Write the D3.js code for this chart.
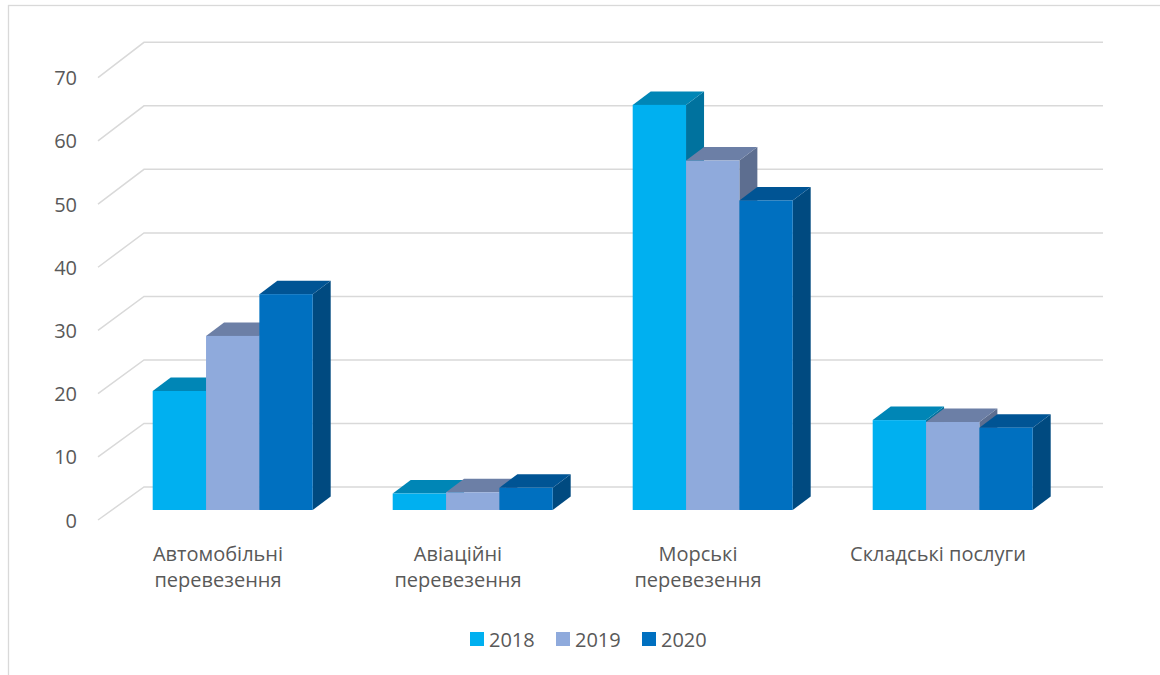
<!DOCTYPE html>
<html>
<head>
<meta charset="utf-8">
<script src="https://cdn.jsdelivr.net/npm/d3@7"></script>
<style>
  html, body { margin: 0; padding: 0; background: #fff; }
  svg { display: block; }
  text { font-family: "Open Sans", "Noto Sans", sans-serif; fill: #595959; }
</style>
</head>
<body>
<svg id="chart" width="1160" height="675"></svg>
<script>
// ---- data ----
const categories = [["Автомобільні", "перевезення"], ["Авіаційні", "перевезення"], ["Морські", "перевезення"], ["Складські послуги"]];
const seriesNames = ["2018", "2019", "2020"];
const values2018 = [18.8, 2.6, 64.0, 14.2];
const values2019 = [27.5, 2.8, 55.2, 13.9];
const values2020 = [34.1, 3.5, 48.9, 13.0];
const yTicks = [0, 10, 20, 30, 40, 50, 60, 70];

const seriesValues = [values2018, values2019, values2020];
const frontColors = ["#00B0F0", "#8FAADC", "#0070C0"];
const topColors   = ["#0086B6", "#6C7FA6", "#005494"];
const sideColors  = ["#00729E", "#5D6E90", "#004A80"];

const svg = d3.select("#chart");

// chart frame
svg.append("rect").attr("x", 8.5).attr("y", 5.5).attr("width", 1200).attr("height", 700)
  .attr("fill", "none").attr("stroke", "#d9d9d9").attr("stroke-width", 1.3);

// ---- scales ----
const yBack  = d3.scaleLinear().domain([0, 70]).range([487, 42.3]);
const yFront = d3.scaleLinear().domain([0, 70]).range([520, 77.7]);
const yBar   = d3.scaleLinear().domain([0, 70]).range([510, 510 - 70 * 6.33]);
const xBackL = 144, xBackR = 1103, xFrontL = 98;

const catIdx = categories.map((d, i) => i);
const xFloor = d3.scaleBand().domain(catIdx).range([98, 1058]);           // front floor (labels)
const xCat   = d3.scaleBand().domain(catIdx).range([98 + 14.7, 1058 + 14.7]); // bar plane
const xSer   = d3.scaleBand().domain(seriesNames).range([40, 200]);
const depthDx = 18, depthDy = -13.5;

// ---- gridlines ----
const grid = svg.append("g").attr("stroke", "#d9d9d9").attr("stroke-width", 1.5).attr("fill", "none");
yTicks.forEach(t => {
  grid.append("path").attr("d",
    `M${xFrontL},${yFront(t)}L${xBackL},${yBack(t)}L${xBackR},${yBack(t)}`);
});

// y labels
svg.append("g").selectAll("text").data(yTicks).join("text")
  .attr("x", 77).attr("y", d => yFront(d))
  .attr("text-anchor", "end").attr("dominant-baseline", "central")
  .attr("font-size", 20).text(d => d);

// ---- bars ----
const bars = svg.append("g");
catIdx.forEach(ci => {
  seriesNames.forEach((s, si) => {
    const v = seriesValues[si][ci];
    const x0 = xCat(ci) + xSer(s);
    const x1 = x0 + xSer.bandwidth();
    const yb = yBar(0), yt = yBar(v);
    const g = bars.append("g");
    // side face
    g.append("path").attr("fill", sideColors[si]).attr("d",
      `M${x1},${yb}L${x1 + depthDx},${yb + depthDy}L${x1 + depthDx},${yt + depthDy}L${x1},${yt}Z`);
    // top face
    g.append("path").attr("fill", topColors[si]).attr("d",
      `M${x0},${yt}L${x0 + depthDx},${yt + depthDy}L${x1 + depthDx},${yt + depthDy}L${x1},${yt}Z`);
    // front face
    g.append("rect").attr("fill", frontColors[si])
      .attr("x", x0).attr("y", yt).attr("width", x1 - x0).attr("height", yb - yt);
  });
});

// ---- category labels ----
const catLabels = svg.append("g");
catIdx.forEach(ci => {
  const t = catLabels.append("text")
    .attr("x", xFloor(ci) + xFloor.bandwidth() / 2)
    .attr("y", 561).attr("text-anchor", "middle").attr("font-size", 20);
  categories[ci].forEach((line, li) => {
    t.append("tspan").attr("x", xFloor(ci) + xFloor.bandwidth() / 2)
      .attr("dy", li === 0 ? 0 : 26).text(line);
  });
});

// ---- legend ----
const legendX = [470, 556, 642];
const legend = svg.append("g");
seriesNames.forEach((s, i) => {
  legend.append("rect").attr("x", legendX[i]).attr("y", 632).attr("width", 14).attr("height", 14)
    .attr("fill", frontColors[i]);
  legend.append("text").attr("x", legendX[i] + 19).attr("y", 639)
    .attr("dominant-baseline", "central").attr("font-size", 20).text(s);
});
</script>
</body>
</html>
